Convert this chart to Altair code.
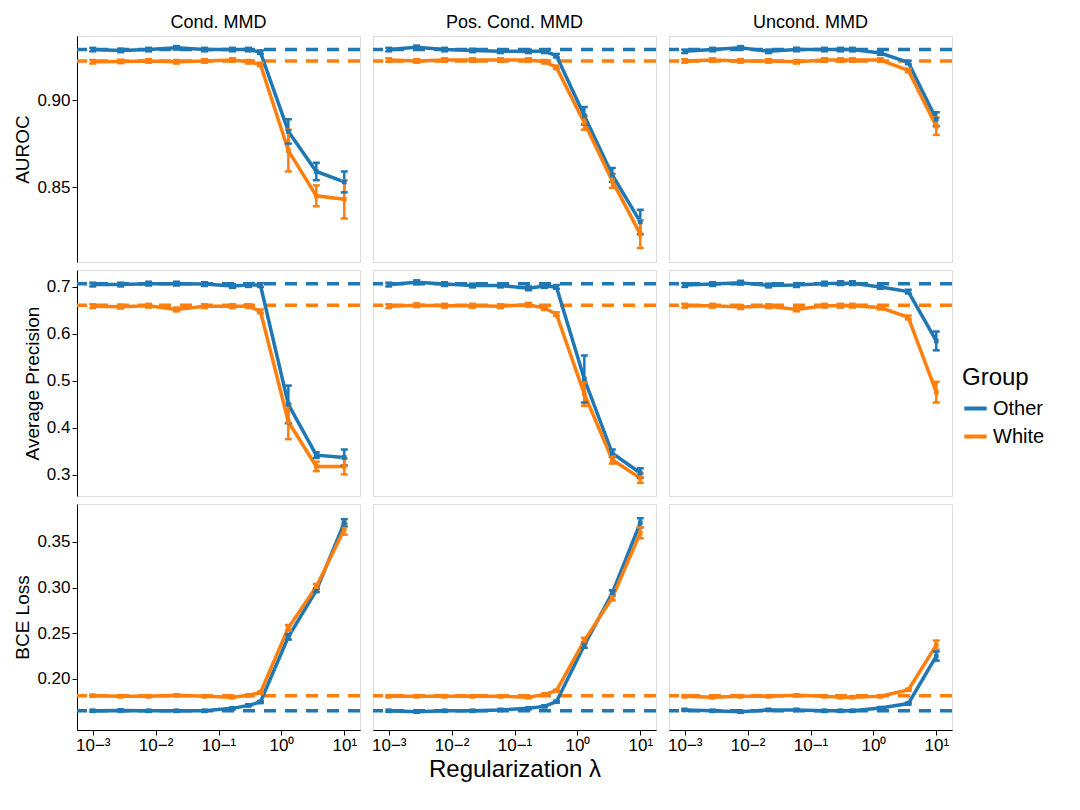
import altair as alt
import pandas as pd

lam = [0.001, 0.00278, 0.00774, 0.0215, 0.0599, 0.167, 0.3, 0.464, 1.29, 3.59, 10]
methods = ["Cond. MMD", "Pos. Cond. MMD", "Uncond. MMD"]
metrics = ["AUROC", "Average Precision", "BCE Loss"]
groups = ["Other", "White"]

vals = {
 ("AUROC","Cond. MMD","Other"): [0.929,0.9285,0.929,0.930,0.929,0.929,0.929,0.9275,0.882,0.859,0.853],
 ("AUROC","Cond. MMD","White"): [0.922,0.9222,0.9225,0.922,0.9225,0.923,0.922,0.9205,0.871,0.845,0.843],
 ("AUROC","Pos. Cond. MMD","Other"): [0.929,0.9303,0.929,0.9285,0.928,0.928,0.928,0.9255,0.891,0.857,0.830],
 ("AUROC","Pos. Cond. MMD","White"): [0.923,0.9225,0.923,0.923,0.923,0.923,0.922,0.9188,0.887,0.8536,0.823],
 ("AUROC","Uncond. MMD","Other"): [0.928,0.929,0.930,0.928,0.929,0.929,0.929,0.929,0.927,0.9216,0.889],
 ("AUROC","Uncond. MMD","White"): [0.9225,0.923,0.9225,0.9225,0.922,0.923,0.923,0.923,0.923,0.917,0.885],
 ("Average Precision","Cond. MMD","Other"): [0.705,0.705,0.707,0.707,0.706,0.702,0.704,0.704,0.45,0.342,0.337],
 ("Average Precision","Cond. MMD","White"): [0.659,0.658,0.66,0.652,0.659,0.659,0.659,0.648,0.413,0.318,0.318],
 ("Average Precision","Pos. Cond. MMD","Other"): [0.705,0.71,0.706,0.703,0.703,0.697,0.702,0.70,0.504,0.346,0.304],
 ("Average Precision","Pos. Cond. MMD","White"): [0.659,0.661,0.66,0.66,0.659,0.662,0.655,0.642,0.472,0.332,0.293],
 ("Average Precision","Uncond. MMD","Other"): [0.704,0.706,0.709,0.703,0.704,0.707,0.708,0.708,0.70,0.69,0.585],
 ("Average Precision","Uncond. MMD","White"): [0.66,0.66,0.657,0.659,0.652,0.66,0.66,0.66,0.656,0.635,0.476],
 ("BCE Loss","Cond. MMD","Other"): [0.165,0.1655,0.165,0.165,0.165,0.1677,0.171,0.1747,0.246,0.297,0.371],
 ("BCE Loss","Cond. MMD","White"): [0.1816,0.181,0.181,0.182,0.181,0.180,0.182,0.185,0.256,0.301,0.364],
 ("BCE Loss","Pos. Cond. MMD","Other"): [0.165,0.164,0.165,0.165,0.166,0.1677,0.17,0.175,0.237,0.294,0.371],
 ("BCE Loss","Pos. Cond. MMD","White"): [0.181,0.181,0.181,0.181,0.181,0.180,0.183,0.187,0.242,0.289,0.36],
 ("BCE Loss","Uncond. MMD","Other"): [0.166,0.165,0.164,0.166,0.166,0.165,0.165,0.165,0.168,0.173,0.225],
 ("BCE Loss","Uncond. MMD","White"): [0.181,0.180,0.181,0.181,0.182,0.181,0.180,0.180,0.181,0.188,0.237],
}
errs = {
 ("AUROC","Cond. MMD","Other"): [0.001]*8+[0.007,0.005,0.006],
 ("AUROC","Cond. MMD","White"): [0.001]*8+[0.012,0.006,0.011],
 ("AUROC","Pos. Cond. MMD","Other"): [0.001]*8+[0.005,0.004,0.007],
 ("AUROC","Pos. Cond. MMD","White"): [0.001]*8+[0.004,0.004,0.008],
 ("AUROC","Uncond. MMD","Other"): [0.001]*10+[0.004],
 ("AUROC","Uncond. MMD","White"): [0.001]*10+[0.005],
 ("Average Precision","Cond. MMD","Other"): [0.004]*8+[0.04,0.006,0.017],
 ("Average Precision","Cond. MMD","White"): [0.004]*8+[0.037,0.01,0.017],
 ("Average Precision","Pos. Cond. MMD","Other"): [0.004]*8+[0.05,0.008,0.01],
 ("Average Precision","Pos. Cond. MMD","White"): [0.004]*8+[0.025,0.008,0.01],
 ("Average Precision","Uncond. MMD","Other"): [0.004]*10+[0.02],
 ("Average Precision","Uncond. MMD","White"): [0.004]*10+[0.022],
 ("BCE Loss","Cond. MMD","Other"): [0.001]*8+[0.003,0.002,0.004],
 ("BCE Loss","Cond. MMD","White"): [0.001]*8+[0.003,0.003,0.006],
 ("BCE Loss","Pos. Cond. MMD","Other"): [0.001]*8+[0.003,0.003,0.005],
 ("BCE Loss","Pos. Cond. MMD","White"): [0.001]*8+[0.003,0.003,0.006],
 ("BCE Loss","Uncond. MMD","Other"): [0.001]*10+[0.005],
 ("BCE Loss","Uncond. MMD","White"): [0.001]*10+[0.005],
}
baseline = {"AUROC": {"Other": 0.929, "White": 0.9224},
            "Average Precision": {"Other": 0.707, "White": 0.661},
            "BCE Loss": {"Other": 0.165, "White": 0.1816}}
ydomains = {"AUROC": [0.807, 0.9368], "Average Precision": [0.255, 0.736], "BCE Loss": [0.144, 0.3916]}
yticks = {"AUROC": [0.85, 0.90], "Average Precision": [0.3, 0.4, 0.5, 0.6, 0.7],
          "BCE Loss": [0.20, 0.25, 0.30, 0.35]}
yfmt = {"AUROC": ".2f", "Average Precision": ".1f", "BCE Loss": ".2f"}

rows = []
for (mt, me, g), ys in vals.items():
    for xv, yv, ev in zip(lam, ys, errs[(mt, me, g)]):
        rows.append(dict(metric=mt, method=me, group=g, x=xv, y=yv, lo=yv-ev, hi=yv+ev))
df = pd.DataFrame(rows)
bl = pd.DataFrame([dict(metric=m, group=g, y=v) for m, d in baseline.items() for g, v in d.items()])

color = alt.Color("group:N", scale=alt.Scale(domain=groups, range=["#1f77b4", "#ff7f0e"]),
                  legend=alt.Legend(title="Group", orient="none", legendX=885, legendY=330,
                                    titleFontSize=24, labelFontSize=20, titleFontWeight="normal",
                                    symbolType="stroke", symbolStrokeWidth=4, symbolSize=500,
                                    titleColor="black", labelColor="black", rowPadding=4))
sup = "replace(replace(replace(replace(replace(format(log(datum.value)/log(10),'d'),'-','⁻'),'0','⁰'),'1','¹'),'2','²'),'3','³')"
W, H = 283, 226

def panel(mt, me, ri, ci):
    d = df[(df.metric == mt) & (df.method == me)]
    b = bl[bl.metric == mt]
    bottom = ri == 2
    xaxis = alt.Axis(values=[0.001, 0.01, 0.1, 1, 10], labelExpr="'10' + " + sup, grid=False,
                     labelFontSize=17, labelColor="black", tickColor="black", domainColor="black",
                     title="Regularization λ" if (bottom and ci == 1) else "", titleFontSize=24,
                     titleFontWeight="normal", titleColor="black", labels=bottom, ticks=bottom,
                     domain=bottom)
    if ci == 0:
        yaxis = alt.Axis(values=yticks[mt], format=yfmt[mt], grid=False, labelFontSize=17,
                         labelColor="black", tickColor="black", domainColor="black",
                         title=mt, titleFontSize=19, titleFontWeight="normal", titleColor="black")
    else:
        yaxis = alt.Axis(values=yticks[mt], labels=False, ticks=False, domain=False, grid=False, title="")
    X = alt.X("x:Q", scale=alt.Scale(type="log", domain=[10**-3.25, 10**1.25], nice=False), axis=xaxis)
    ysc = alt.Scale(domain=ydomains[mt], nice=False, zero=False)
    Y = alt.Y("y:Q", scale=ysc, axis=yaxis)
    base = alt.Chart(d)
    rule = alt.Chart(b).mark_rule(strokeDash=[12, 9], strokeWidth=3.5).encode(
        y=alt.Y("y:Q", scale=ysc, axis=yaxis), color=color)
    line = base.mark_line(strokeWidth=3.5).encode(x=X, y=Y, color=color)
    pts = base.mark_point(shape="square", filled=True, size=22, opacity=1).encode(x=X, y=Y, color=color)
    eb = base.mark_rule(strokeWidth=2.5).encode(x=X, y=alt.Y("lo:Q", scale=ysc, axis=yaxis), y2="hi:Q", color=color)
    cap1 = base.mark_tick(orient="horizontal", size=7, thickness=2.5, opacity=1).encode(
        x=X, y=alt.Y("lo:Q", scale=ysc, axis=yaxis), color=color)
    cap2 = base.mark_tick(orient="horizontal", size=7, thickness=2.5, opacity=1).encode(
        x=X, y=alt.Y("hi:Q", scale=ysc, axis=yaxis), color=color)
    ch = alt.layer(rule, line, eb, cap1, cap2, pts).properties(width=W, height=H)
    if ri == 0:
        ch = ch.properties(title=alt.TitleParams(me, fontSize=18, fontWeight="normal", color="black"))
    return ch

rowcharts = [alt.hconcat(*[panel(mt, me, ri, ci) for ci, me in enumerate(methods)], spacing=7)
             for ri, mt in enumerate(metrics)]
chart = alt.vconcat(*rowcharts, spacing=6).configure_view(stroke="#808080", strokeWidth=1.2).configure(
    font="Liberation Sans")
chart.save("out.html", embed_options={"renderer": "svg", "actions": False})
